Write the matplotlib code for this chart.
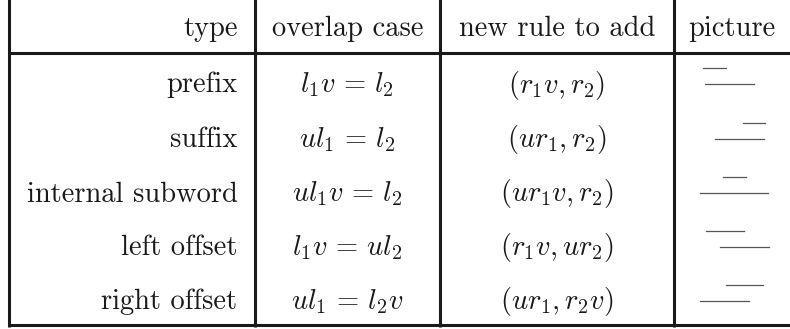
import matplotlib
matplotlib.use("Agg")
import matplotlib.pyplot as plt

# --- table content ---
types = ["prefix", "suffix", "internal subword", "left offset", "right offset"]
overlaps = [r"$l_1v \,=\, l_2$", r"$ul_1 \,=\, l_2$", r"$ul_1v \,=\, l_2$",
            r"$l_1v \,=\, ul_2$", r"$ul_1 \,=\, l_2v$"]
rules = [r"$(r_1v, r_2)$", r"$(ur_1, r_2)$", r"$(ur_1v, r_2)$",
         r"$(r_1v, ur_2)$", r"$(ur_1, r_2v)$"]
headers = ["type", "overlap case", "new rule to add", "picture"]

# picture column: (short segment, long segment) as x-intervals
pic_short = [(703, 726), (743, 765), (723, 746), (706, 744), (726, 763)]
pic_long = [(705, 754), (715, 764), (700, 768), (720, 769), (700, 749)]

# layout (pixels)
W, H = 790, 329
col_edges = [9, 254.5, 440, 674]
header_base = 36
row_base = [92.5, 147, 201.5, 255, 309]
head_line, bottom_line = 52.5, 325
fs = 20.5
ink = "#1a1a1a"

plt.rcParams['mathtext.fontset'] = 'cm'
fig = plt.figure(figsize=(W / 100, H / 100), dpi=100)
ax = fig.add_axes([0, 0, 1, 1])
ax.set_xlim(0, W)
ax.set_ylim(H, 0)
ax.axis("off")

# rules of the table
for x in col_edges:
    ax.plot([x, x], [-5, bottom_line + 1.5], color=ink, lw=2.2, solid_capstyle="butt")
for y in (head_line, bottom_line):
    ax.plot([col_edges[0] - 1, W + 5], [y, y], color=ink, lw=2.2, solid_capstyle="butt")

col_centers = [(col_edges[1] + col_edges[2]) / 2, (col_edges[2] + col_edges[3]) / 2,
               (col_edges[3] + W) / 2]
right_edge1 = col_edges[1] - 17

txt = dict(fontsize=fs, color=ink, va="baseline")
ax.text(right_edge1, header_base, headers[0], ha="right", family="cmr10", **txt)
for cx, h in zip(col_centers, headers[1:]):
    ax.text(cx, header_base, h, ha="center", family="cmr10", **txt)

for i, yb in enumerate(row_base):
    ax.text(right_edge1, yb, types[i], ha="right", family="cmr10", **txt)
    ax.text(col_centers[0], yb, overlaps[i], ha="center", **txt)
    ax.text(col_centers[1], yb, rules[i], ha="center", **txt)
    ys = yb - 24.5
    yl = yb - 8.5
    ax.plot(pic_short[i], [ys, ys], color="#555555", lw=0.9)
    ax.plot(pic_long[i], [yl, yl], color="#555555", lw=0.9)

fig.savefig("out.png", dpi=100)
